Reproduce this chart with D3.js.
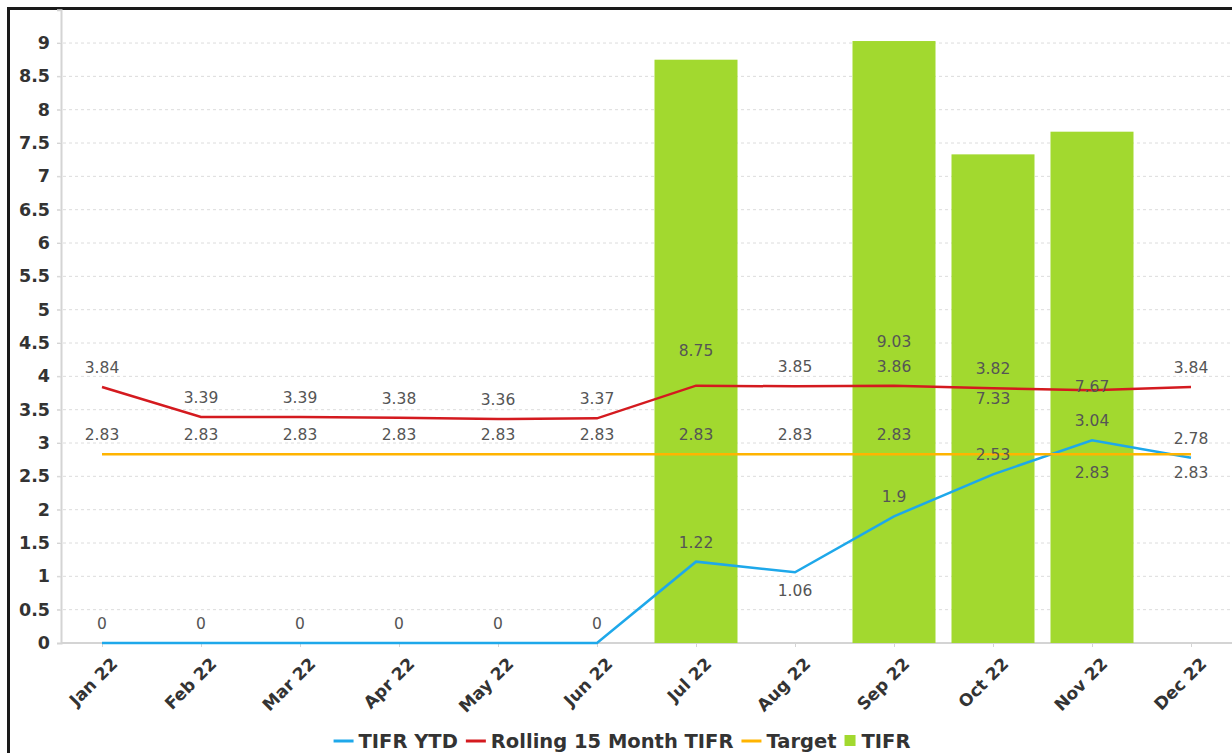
<!DOCTYPE html>
<html lang="en">

<head>
    <meta charset="UTF-8">
    <title>TIFR 2022</title>
    <script src="https://d3js.org/d3.v7.min.js"></script>
</head>
<style>
    body {
        margin: 0;
        background: #fff;
    }
    
    .frame {
        position: absolute;
        left: 7px;
        top: 7px;
        width: 1240px;
        height: 760px;
        border: 3px solid #1a1a1a;
        box-shadow: 1px 1px 1px #999;
    }
</style>

<body>
    <div class="frame"></div>
    <svg id="chart" width="1232" height="753" style="position:absolute;left:0;top:0"></svg>
    <script>
        // data
        const months = ['Jan 22', 'Feb 22', 'Mar 22', 'Apr 22', 'May 22', 'Jun 22',
            'Jul 22', 'Aug 22', 'Sep 22', 'Oct 22', 'Nov 22', 'Dec 22'
        ];
        const tifr = [null, null, null, null, null, null, 8.75, null, 9.03, 7.33, 7.67, null];
        const tifrYtd = [0, 0, 0, 0, 0, 0, 1.22, 1.06, 1.9, 2.53, 3.04, 2.78];
        const rolling15 = [3.84, 3.39, 3.39, 3.38, 3.36, 3.37, 3.86, 3.85, 3.86, 3.82, 3.79, 3.84];
        const target = [2.83, 2.83, 2.83, 2.83, 2.83, 2.83, 2.83, 2.83, 2.83, 2.83, 2.83, 2.83];
        const yTicks = d3.range(0, 9.01, 0.5);

        const series = [
            { name: 'TIFR YTD', values: tifrYtd, color: '#1ea8ea' },
            { name: 'Rolling 15 Month TIFR', values: rolling15, color: '#d41a1f' },
            { name: 'Target', values: target, color: '#ffb400' }
        ];
        const barColor = '#a2d92f';

        // where the library moved or dropped overlapping labels
        const labelRules = {
            'TIFR YTD': { 'Aug 22': 'below' },
            'Rolling 15 Month TIFR': { 'Jul 22': 'hide', 'Nov 22': 'hide' },
            'Target': { 'Oct 22': 'hide', 'Nov 22': 'below', 'Dec 22': 'below' }
        };

        const svg = d3.select('#chart');
        const font = 'DejaVu Sans, sans-serif';

        const x = d3.scalePoint().domain(months).range([102, 1191]);
        const y = d3.scaleLinear().domain([0, 9.5]).range([643, 9.7]);
        const axisLeft = 61;

        // grid
        svg.append('g')
            .selectAll('line')
            .data(yTicks.filter(d => d > 0))
            .join('line')
            .attr('x1', axisLeft - 4)
            .attr('x2', 1232)
            .attr('y1', d => y(d))
            .attr('y2', d => y(d))
            .attr('stroke', '#dcdcdc')
            .attr('stroke-width', 1)
            .attr('stroke-dasharray', '3,3');

        // y axis
        const yAxis = svg.append('g')
            .attr('transform', `translate(${axisLeft},0)`)
            .call(d3.axisLeft(y).tickValues(yTicks).tickSize(4).tickPadding(7).tickFormat(d3.format('~g')));
        yAxis.select('.domain').attr('stroke', '#d4d4d4').attr('stroke-width', 2);
        yAxis.selectAll('.tick line').attr('stroke', '#d4d4d4');
        yAxis.selectAll('text')
            .attr('fill', '#333')
            .attr('font-size', '17.5px')
            .attr('font-weight', 'bold')
            .attr('font-family', font);

        // x axis
        const xAxis = svg.append('g')
            .attr('transform', `translate(0,${y(0)})`)
            .call(d3.axisBottom(x).tickSize(4).tickSizeOuter(0));
        xAxis.select('.domain').attr('stroke', '#d4d4d4').attr('stroke-width', 2)
            .attr('d', `M${axisLeft},0H1232`);
        xAxis.selectAll('.tick line').attr('stroke', '#d4d4d4');
        xAxis.selectAll('text')
            .attr('fill', '#333')
            .attr('font-size', '17px')
            .attr('font-weight', 'bold')
            .attr('font-family', font)
            .attr('text-anchor', 'end')
            .attr('dy', 0)
            .attr('y', 0)
            .attr('transform', 'translate(16,22) rotate(-45)');

        // bars
        const barW = 83;
        const barData = months.map((m, i) => ({ m, v: tifr[i] })).filter(d => d.v != null);
        svg.append('g')
            .selectAll('rect')
            .data(barData)
            .join('rect')
            .attr('x', d => x(d.m) - barW / 2)
            .attr('width', barW)
            .attr('y', d => y(d.v))
            .attr('height', d => y(0) - y(d.v))
            .attr('fill', barColor);

        // lines
        const line = d3.line()
            .x(d => x(d.m))
            .y(d => y(d.v));

        series.forEach(s => {
            const pts = months.map((m, i) => ({ m, v: s.values[i] }));
            svg.append('path')
                .datum(pts)
                .attr('d', line)
                .attr('fill', 'none')
                .attr('stroke', s.color)
                .attr('stroke-width', 2.5);
        });

        // data labels
        const labels = svg.append('g')
            .attr('font-family', font)
            .attr('font-size', '15.5px')
            .attr('fill', '#555')
            .attr('text-anchor', 'middle');

        labels.selectAll('text.bar')
            .data(barData)
            .join('text')
            .attr('class', 'bar')
            .attr('x', d => x(d.m))
            .attr('y', d => (y(d.v) + y(0)) / 2 + 5)
            .text(d => d.v);

        series.forEach(s => {
            const rules = labelRules[s.name] || {};
            const pts = months.map((m, i) => ({ m, v: s.values[i] }))
                .filter(d => rules[d.m] !== 'hide');
            labels.append('g')
                .selectAll('text')
                .data(pts)
                .join('text')
                .attr('x', d => x(d.m))
                .attr('y', d => rules[d.m] === 'below' ? y(d.v) + 24 : y(d.v) - 14)
                .text(d => d.v);
        });

        // legend
        const legendItems = [
            ...series.map(s => ({ name: s.name, color: s.color, type: 'line' })),
            { name: 'TIFR', color: barColor, type: 'bar' }
        ];
        const legend = svg.append('g')
            .attr('font-family', font)
            .attr('font-size', '19.5px')
            .attr('font-weight', 'bold')
            .attr('fill', '#333');

        let cx = 0;
        legendItems.forEach(it => {
            const g = legend.append('g').attr('transform', `translate(${cx},0)`);
            let sw;
            if (it.type === 'line') {
                g.append('line')
                    .attr('x1', 0).attr('x2', 20)
                    .attr('y1', -7).attr('y2', -7)
                    .attr('stroke', it.color)
                    .attr('stroke-width', 3);
                sw = 25;
            } else {
                g.append('rect')
                    .attr('x', 0).attr('y', -13)
                    .attr('width', 11).attr('height', 11)
                    .attr('fill', it.color);
                sw = 17;
            }
            const t = g.append('text').attr('x', sw).text(it.name);
            cx += sw + t.node().getComputedTextLength() + 8;
        });
        const legendW = cx - 8;
        legend.attr('transform', `translate(${622 - legendW / 2},748)`);
    </script>
</body>

</html>
